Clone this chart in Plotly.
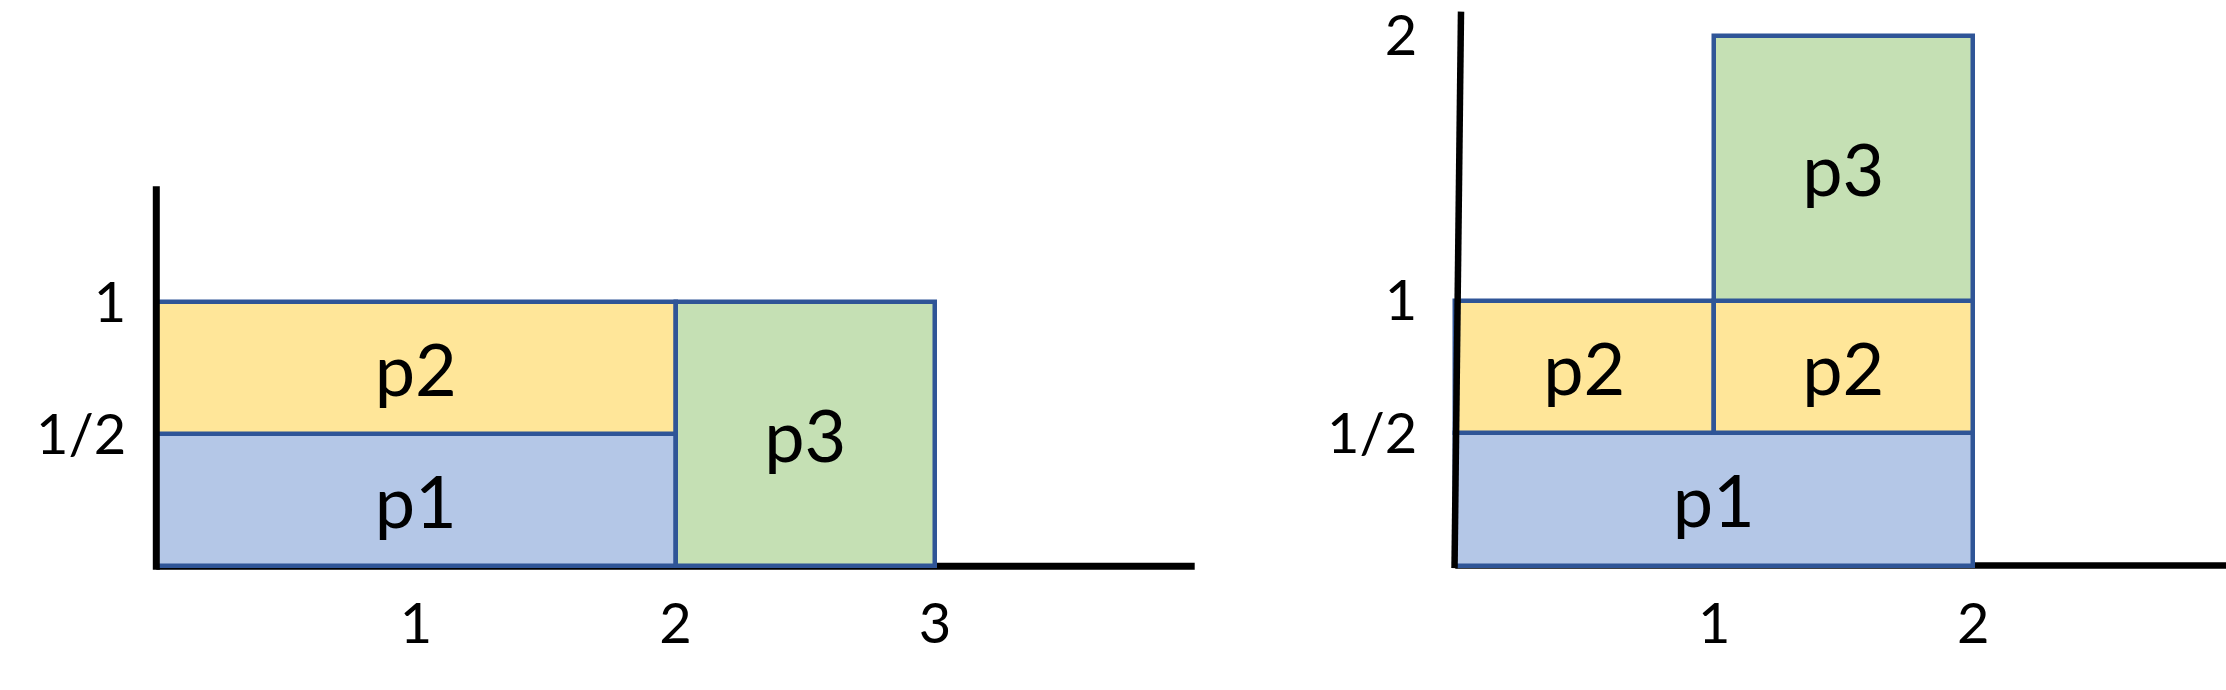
import plotly.graph_objects as go

# ---------------- data ----------------
# Left panel: rectangles (label, x-extent, y-extent)
left_labels = ["p1", "p2", "p3"]
left_x0 = [0, 0, 2]
left_x1 = [2, 2, 3]
left_y0 = [0, 0.5, 0]
left_y1 = [0.5, 1, 1]
left_xtick_vals = [1, 2, 3]
left_xtick_text = ["1", "2", "3"]
left_ytick_vals = [0.5, 1]
left_ytick_text = ["1/2", "1"]

# Right panel
right_labels = ["p1", "p2", "p2", "p3"]
right_x0 = [0, 0, 1, 1]
right_x1 = [2, 1, 2, 2]
right_y0 = [0, 0.5, 0.5, 1]
right_y1 = [0.5, 1, 1, 2]
right_xtick_vals = [1, 2]
right_xtick_text = ["1", "2"]
right_ytick_vals = [0.5, 1, 2]
right_ytick_text = ["1/2", "1", "2"]

# ---------------- style ----------------
W, H = 2226, 690
FONT = "Lato"
COLORS = {"p1": "#B4C7E7", "p2": "#FFE699", "p3": "#C5E0B4"}
EDGE = "#2F5597"

fig = go.Figure()


def add_rects(labels, x0, x1, y0, y1, xa, ya):
    fig.add_trace(go.Bar(
        x=[(a + b) / 2 for a, b in zip(x0, x1)],
        width=[b - a for a, b in zip(x0, x1)],
        base=y0,
        y=[b - a for a, b in zip(y0, y1)],
        marker=dict(color=[COLORS[l] for l in labels],
                    line=dict(color=EDGE, width=4.5)),
        text=labels,
        textposition="inside",
        insidetextanchor="middle",
        textangle=0,
        textfont=dict(family=FONT, size=72, color="black"),
        hoverinfo="skip",
        showlegend=False,
        xaxis=xa, yaxis=ya,
    ))


add_rects(left_labels, left_x0, left_x1, left_y0, left_y1, "x", "y")
add_rects(right_labels, right_x0, right_x1, right_y0, right_y1, "x2", "y2")

# pixel geometry of each panel (origin pixel and unit sizes)
L_ox, L_oy, L_ux, L_uy = 156.3, 566.2, 259.6, 263.8
R_ox, R_oy, R_ux, R_uy = 1455.3, 565.5, 259.0, 265.0
L_dom = (0.0, 1250 / W)
R_dom = (1300 / W, 1.0)


def xrange(ox, ux, dom):
    return [(dom[0] * W - ox) / ux, (dom[1] * W - ox) / ux]


def yrange(oy, uy):
    return [(oy - H) / uy, oy / uy]


tick_font = dict(family=FONT, size=56, color="black")
common = dict(showgrid=False, zeroline=False, showline=False, ticks="",
              fixedrange=True, tickfont=tick_font)

fig.update_layout(
    width=W, height=H,
    margin=dict(l=0, r=0, t=0, b=0),
    paper_bgcolor="white", plot_bgcolor="white",
    barmode="overlay", bargap=0,
    uniformtext=dict(minsize=72, mode="show"),
    xaxis=dict(domain=list(L_dom), range=xrange(L_ox, L_ux, L_dom),
               anchor="free", position=1 - L_oy / H,
               tickmode="array", tickvals=left_xtick_vals, ticktext=left_xtick_text,
               ticklabelstandoff=20, **common),
    yaxis=dict(domain=[0, 1], range=yrange(L_oy, L_uy),
               anchor="free", position=L_ox / W,
               tickmode="array", tickvals=left_ytick_vals, ticktext=left_ytick_text,
               ticklabelstandoff=30, **common),
    xaxis2=dict(domain=list(R_dom), range=xrange(R_ox, R_ux, R_dom),
                anchor="free", position=1 - R_oy / H,
                tickmode="array", tickvals=right_xtick_vals, ticktext=right_xtick_text,
                ticklabelstandoff=20, **common),
    yaxis2=dict(domain=[0, 1], range=yrange(R_oy, R_uy),
                anchor="free", position=R_ox / W,
                tickmode="array", tickvals=right_ytick_vals, ticktext=right_ytick_text,
                ticklabelstandoff=38, **common),
)

# hand-drawn style axis lines
axis_line = dict(color="black", width=7)
fig.add_shape(type="line", xref="x", yref="y", x0=0, y0=0, x1=4, y1=0,
              line=axis_line, layer="below")
fig.add_shape(type="line", xref="x", yref="y", x0=0, y0=-0.013, x1=0, y1=1.44,
              line=axis_line, layer="above")
fig.add_shape(type="line", xref="x2", yref="y2", x0=0, y0=0, x1=2.98, y1=0,
              line=dict(color="black", width=6.5), layer="below")
fig.add_shape(type="line", xref="x2", yref="y2", x0=-0.003, y0=-0.01, x1=0.022, y1=2.09,
              line=dict(color="black", width=6.5), layer="above")

fig.write_html(
    "out.html",
    config={"displayModeBar": False},
    post_script="document.body.style.margin='0';document.body.style.overflow='hidden';",
)
